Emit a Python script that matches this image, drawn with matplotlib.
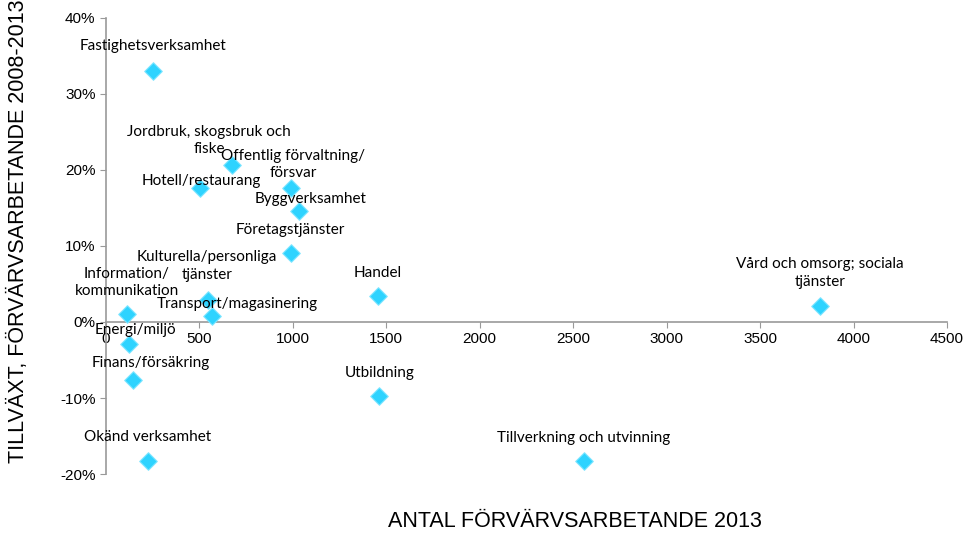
import matplotlib
matplotlib.use("Agg")
import matplotlib.pyplot as plt
from matplotlib.ticker import PercentFormatter, MultipleLocator

plt.rcParams['axes.unicode_minus'] = False

# branscher, antal förvärvsarbetande 2013 och tillväxt 2008-2013 (%)
branscher = [
    "Fastighetsverksamhet",
    "Jordbruk, skogsbruk och\nfiske",
    "Hotell/restaurang",
    "Offentlig förvaltning/\nförsvar",
    "Byggverksamhet",
    "Företagstjänster",
    "Kulturella/personliga\ntjänster",
    "Transport/magasinering",
    "Information/\nkommunikation",
    "Energi/miljö",
    "Finans/försäkring",
    "Handel",
    "Utbildning",
    "Okänd verksamhet",
    "Tillverkning och utvinning",
    "Vård och omsorg; sociala\ntjänster",
]
antal = [251, 674, 503, 990, 1033, 990, 546, 567, 112, 123, 144, 1455, 1460, 225, 2557, 3820]
tillvaxt = [33.0, 20.7, 17.6, 17.6, 14.6, 9.1, 2.9, 0.8, 1.0, -2.9, -7.6, 3.4, -9.7, -18.3, -18.3, 2.1]

# label offsets in pixels (label centre relative to point)
offsets = [(0, 25), (-23, 24), (1, 7), (2, 24), (12, 12), (-1, 23), (-1, 34), (25, 12),
           (0, 32), (6, 14), (18, 17), (0, 23), (1, 23), (0, 24), (0, 23), (0, 33)]

fig = plt.figure(figsize=(9.65, 5.35), dpi=100)
ax = fig.add_axes([0.1098, 0.1140, 0.8715, 0.8524])

ax.scatter(antal, tillvaxt, marker='D', s=80, color='#2ED3FF',
           edgecolors='#7FE6FF', linewidths=0.8, zorder=3)

for name, x, y, (dx, dy) in zip(branscher, antal, tillvaxt, offsets):
    ax.annotate(name, (x, y), xytext=(dx, dy), textcoords='offset pixels',
                ha='center', va='center', family='Lato', fontsize=11,
                linespacing=1.3, color='black', zorder=4)

ax.set_xlim(0, 4500)
ax.set_ylim(-20, 40)
ax.xaxis.set_major_locator(MultipleLocator(500))
ax.yaxis.set_major_locator(MultipleLocator(10))
ax.yaxis.set_major_formatter(PercentFormatter(xmax=100, decimals=0))

ax.spines['top'].set_visible(False)
ax.spines['right'].set_visible(False)
ax.spines['bottom'].set_position(('data', 0))
for sp in ('left', 'bottom'):
    ax.spines[sp].set_color('#999999')
    ax.spines[sp].set_linewidth(1.2)
ax.tick_params(axis='both', direction='out', length=4, color='#999999',
               labelsize=11, labelcolor='black')
for lab in ax.get_xticklabels() + ax.get_yticklabels():
    lab.set_family('Liberation Sans')
ax.patch.set_alpha(0)

fig.text(0.596, 0.025, "ANTAL FÖRVÄRVSARBETANDE 2013", ha='center', va='center',
         family='Liberation Sans', fontsize=15.5)
fig.text(0.019, 0.568, "TILLVÄXT, FÖRVÄRVSARBETANDE 2008-2013", ha='center', va='center',
         rotation=90, family='Liberation Sans', fontsize=15.5)

plt.savefig("out.png", dpi=100)
